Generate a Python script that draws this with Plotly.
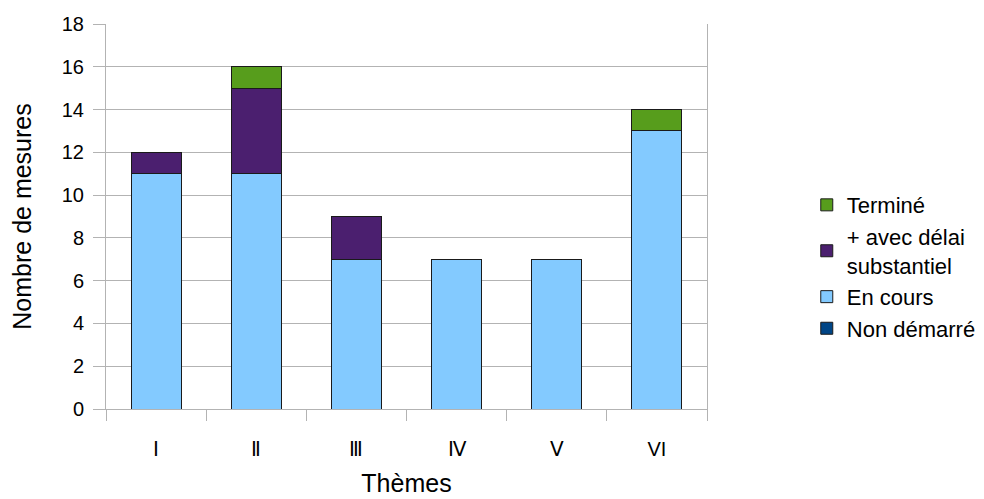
import plotly.graph_objects as go

THEMES = ["Ⅰ", "Ⅱ", "Ⅲ", "Ⅳ", "Ⅴ", "VI"]
NON_DEMARRE = [0, 0, 0, 0, 0, 0]
EN_COURS = [11, 11, 7, 7, 7, 13]
AVEC_DELAI = [1, 4, 2, 0, 0, 0]
TERMINE = [0, 1, 0, 0, 0, 1]

SERIES = [
    ("Non démarré", NON_DEMARRE, "#004586"),
    ("En cours", EN_COURS, "#83CAFF"),
    ("+ avec délai<br>substantiel", AVEC_DELAI, "#4B1F6F"),
    ("Terminé", TERMINE, "#579D1C"),
]

FONT = "Liberation Sans, Arial, sans-serif"

fig = go.Figure()
for name, values, color in SERIES:
    fig.add_trace(
        go.Bar(
            x=THEMES,
            y=values,
            name=name,
            marker={"color": color, "line": {"color": "#1a1a1a", "width": 1}},
        )
    )

# the page body adds an 8px offset, margins are shifted to compensate
fig.update_layout(
    barmode="stack",
    bargap=0.5,
    width=984,
    height=499,
    paper_bgcolor="white",
    plot_bgcolor="white",
    font={"family": FONT, "size": 20, "color": "#000000"},
    margin={"l": 98, "r": 285, "t": 16, "b": 98, "autoexpand": False},
    legend={
        "traceorder": "reversed",
        "x": 1.166,
        "xanchor": "left",
        "y": 0.37,
        "yanchor": "middle",
        "font": {"size": 22},
        "itemwidth": 30,
        "tracegroupgap": 0,
    },
    xaxis={
        "title": {"text": "Thèmes", "font": {"size": 25}, "standoff": 15},
        "showline": True,
        "linecolor": "#b3b3b3",
        "ticks": "outside",
        "tickson": "boundaries",
        "ticklen": 11,
        "tickcolor": "#b3b3b3",
        "ticklabelstandoff": 22,
        "showgrid": False,
        "automargin": False,
    },
    yaxis={
        "title": {"text": "Nombre de mesures", "font": {"size": 25}, "standoff": 25},
        "range": [0, 18],
        "dtick": 2,
        "showline": True,
        "linecolor": "#b3b3b3",
        "mirror": True,
        "ticks": "outside",
        "ticklen": 12,
        "tickcolor": "#b3b3b3",
        "ticklabelstandoff": 5,
        "gridcolor": "#b3b3b3",
        "zeroline": False,
        "automargin": False,
    },
)

fig.write_html("out.html")
